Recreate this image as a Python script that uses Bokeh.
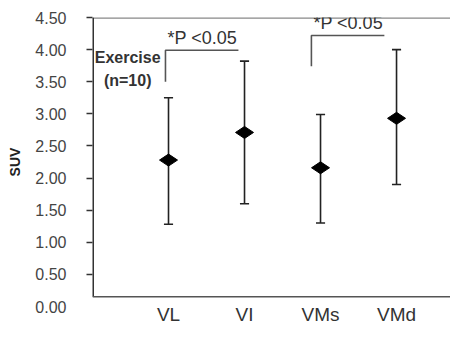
import math
from bokeh.plotting import figure
from bokeh.models import Range1d, FixedTicker, Label, NumeralTickFormatter
from bokeh.embed import file_html
from bokeh.resources import INLINE

categories = ["VL", "VI", "VMs", "VMd"]
xpos = [1, 2, 3, 4]
means = [2.28, 2.71, 2.16, 2.93]
upper = [3.25, 3.82, 2.99, 4.00]
lower = [1.28, 1.60, 1.30, 1.90]
y_labels_at = [0.0, 0.5, 1.0, 1.5, 2.0, 2.5, 3.0, 3.5, 4.0, 4.5]
y_tick_marks = [0.5, 1.0, 1.5, 2.0, 2.5, 3.0, 3.5, 4.0, 4.5]
axis_base = 0.15  # the drawn x-axis line sits slightly above 0.00

# significance brackets: (x_left, x_right, y_bottom, y_top)
bracket1 = [0.96, 1.92, 3.50, 3.99]
bracket2 = [2.88, 3.84, 3.74, 4.22]
sig_text = "*P <0.05"

FONT = "Liberation Sans"
INK = "#222222"
XMAX = 4.71
YMAX = 4.5

p = figure(frame_width=358, frame_height=289, output_backend="svg", toolbar_location=None,
           x_range=Range1d(0, XMAX), y_range=Range1d(0, YMAX),
           min_border_left=92, min_border_right=0, min_border_top=17, min_border_bottom=19)
p.outline_line_color = None
p.grid.visible = False
p.background_fill_color = "white"

# spines drawn as glyphs (half clipped by the frame where on its edge)
p.line(x=[0, XMAX], y=[YMAX, YMAX], line_color="#888888", line_width=2.4)
p.line(x=[0, 0], y=[axis_base, YMAX], line_color="#333333", line_width=3)
p.line(x=[0, XMAX], y=[axis_base, axis_base], line_color="#555555", line_width=1.5)

# error bars
p.segment(x0=xpos, y0=lower, x1=xpos, y1=upper, line_color=INK, line_width=1.6)
capw = 0.06
p.segment(x0=[x - capw for x in xpos], y0=upper, x1=[x + capw for x in xpos], y1=upper,
          line_color=INK, line_width=1.6)
p.segment(x0=[x - capw for x in xpos], y0=lower, x1=[x + capw for x in xpos], y1=lower,
          line_color=INK, line_width=1.6)
p.scatter(x=xpos, y=means, marker="diamond", size=18, angle=math.pi / 2,
          fill_color="black", line_color="black")

# brackets
for b in (bracket1, bracket2):
    p.line(x=[b[0], b[0], b[1]], y=[b[2], b[3], b[3]], line_color="#555555", line_width=1.6)
    p.add_layout(Label(x=b[0], y=b[3], x_offset=2, y_offset=2, text=sig_text, text_font=FONT,
                       text_font_size="18px", text_color="#333333"))

p.add_layout(Label(x=0.03, y=3.87, text="Exercise", text_font=FONT, text_font_style="bold",
                   text_font_size="16px", text_color="#333333", text_baseline="middle"))
p.add_layout(Label(x=0.15, y=3.52, text="(n=10)", text_font=FONT, text_font_style="bold",
                   text_font_size="16px", text_color="#333333", text_baseline="middle"))

# y axis (labels from the axis, tick marks as minor ticks so 0.00 gets none)
ya = p.yaxis[0]
ya.ticker = FixedTicker(ticks=y_labels_at, minor_ticks=y_tick_marks)
ya.formatter = NumeralTickFormatter(format="0.00")
ya.axis_label = "SUV"
ya.axis_label_text_font = FONT
ya.axis_label_text_font_style = "bold"
ya.axis_label_text_font_size = "14px"
ya.axis_label_text_color = "#222222"
ya.axis_label_standoff = 9
ya.major_label_text_font = FONT
ya.major_label_text_font_size = "16px"
ya.major_label_text_color = "#444444"
ya.major_label_standoff = 20
ya.major_tick_out = 0
ya.major_tick_in = 0
ya.minor_tick_out = 6
ya.minor_tick_in = 0
ya.minor_tick_line_color = "#333333"
ya.minor_tick_line_width = 1.5
ya.axis_line_color = None

# x axis
xa = p.xaxis[0]
xa.ticker = FixedTicker(ticks=xpos)
xa.major_label_overrides = {x: c for x, c in zip(xpos, categories)}
xa.major_label_text_font = FONT
xa.major_label_text_font_size = "19px"
xa.major_label_text_color = "#333333"
xa.major_label_standoff = -3
xa.major_tick_out = 0
xa.major_tick_in = 0
xa.minor_tick_out = 0
xa.minor_tick_in = 0
xa.axis_line_color = None

open("out.html", "w").write(file_html(p, INLINE))
